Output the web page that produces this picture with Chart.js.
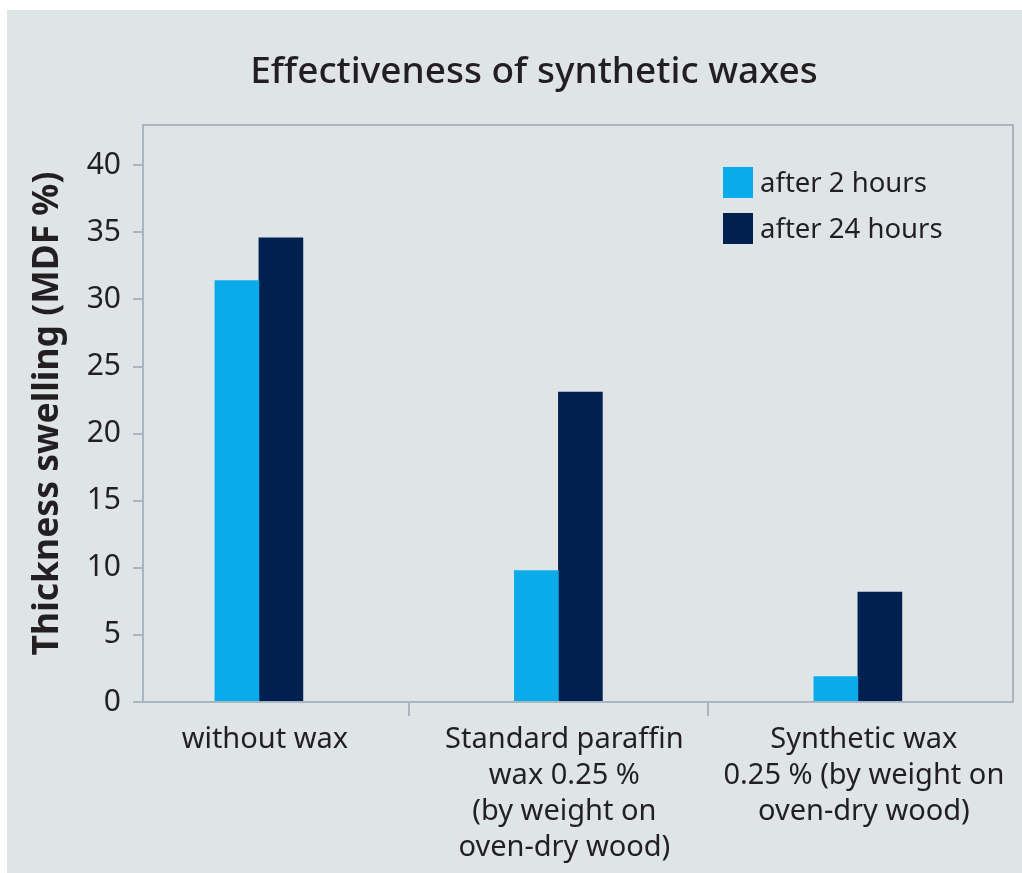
<!DOCTYPE html>
<html>
<head>
<meta charset="utf-8">
<script src="https://cdn.jsdelivr.net/npm/chart.js@4.4.1/dist/chart.umd.min.js"></script>
<style>
  html, body { margin: 0; padding: 0; background: #ffffff; }
  .wrap { position: absolute; left: 7px; top: 10px; width: 1015px; height: 863px; background: #dfe5e6; }
</style>
</head>
<body>
<div class="wrap"><canvas id="waxChart" width="1015" height="863"></canvas></div>
<script>
        // Chart data
        const chartTitle = 'Effectiveness of synthetic waxes';
        const categories = [
            ['without wax'],
            ['Standard paraffin', 'wax 0.25 %', '(by weight on', 'oven-dry wood)'],
            ['Synthetic wax', '0.25 % (by weight on', 'oven-dry wood)']
        ];
        const after2Hours = [31.4, 9.8, 1.9];
        const after24Hours = [34.6, 23.1, 8.2];
        const yTicks = [0, 5, 10, 15, 20, 25, 30, 35, 40];

        const textColor = '#231f20';
        const axisColor = '#a9b5c0';
        const fontFamily = '"Noto Sans", Roboto, sans-serif';

        // frame round the plot area + title (sits a bit right of the canvas centre)
        const frame = {
            id: 'frame',
            afterDraw(chart) {
                const { ctx, chartArea: a } = chart;
                ctx.save();
                ctx.strokeStyle = axisColor;
                ctx.lineWidth = 2;
                ctx.strokeRect(a.left, a.top, a.right - a.left, a.bottom - a.top);
                ctx.font = '500 37px ' + fontFamily;
                ctx.fillStyle = textColor;
                ctx.textAlign = 'center';
                ctx.textBaseline = 'middle';
                ctx.fillText(chartTitle, 527, 62);
                ctx.restore();
            }
        };

        // legend drawn inside the plot, top right
        const innerLegend = {
            id: 'innerLegend',
            afterDraw(chart) {
                const { ctx, chartArea: a } = chart;
                ctx.save();
                ctx.font = '27.5px ' + fontFamily;
                ctx.textBaseline = 'middle';
                ctx.textAlign = 'left';
                chart.data.datasets.forEach((ds, i) => {
                    const x = a.left + 580;
                    const y = a.top + 42 + i * 46;
                    ctx.fillStyle = ds.backgroundColor;
                    ctx.fillRect(x, y, 30, 31);
                    ctx.fillStyle = textColor;
                    ctx.fillText(ds.label, x + 37, y + 17);
                });
                ctx.restore();
            }
        };

        const ctxWax = document.getElementById('waxChart').getContext('2d');
        new Chart(ctxWax, {
            type: 'bar',
            data: {
                datasets: [{
                    label: 'after 2 hours',
                    data: after2Hours.map((v, i) => ({ x: i, y: v })),
                    backgroundColor: '#0aabea',
                    barThickness: 44
                }, {
                    label: 'after 24 hours',
                    data: after24Hours.map((v, i) => ({ x: i, y: v })),
                    backgroundColor: '#002050',
                    barThickness: 44
                }]
            },
            options: {
                responsive: false,
                animation: false,
                layout: { padding: { left: 0, right: 9, top: 115, bottom: 0 } },
                scales: {
                    x: {
                        type: 'linear',
                        min: -0.387,
                        max: 2.518,
                        offset: false,
                        afterBuildTicks: (s) => {
                            s.ticks = categories.flatMap((c, i) => i ? [i - 0.5, i] : [i]).map(v => ({ value: v }));
                        },
                        afterFit: (s) => { s.height = 171; },
                        grid: {
                            offset: false,
                            drawOnChartArea: false,
                            drawTicks: true,
                            tickLength: 14,
                            lineWidth: 2,
                            color: (c) => (c.tick && Number.isInteger(c.tick.value)) ? 'rgba(0,0,0,0)' : axisColor
                        },
                        border: { color: axisColor, width: 2 },
                        ticks: {
                            autoSkip: false,
                            maxRotation: 0,
                            minRotation: 0,
                            padding: 6,
                            labelOffset: 6,
                            color: textColor,
                            font: { family: fontFamily, size: 29, lineHeight: 1.24 },
                            callback: (v) => Number.isInteger(v) ? categories[v] : ''
                        }
                    },
                    y: {
                        min: 0,
                        max: 43,
                        afterBuildTicks: (s) => { s.ticks = yTicks.map(v => ({ value: v })); },
                        afterFit: (s) => { s.width = 136; },
                        grid: {
                            drawOnChartArea: false,
                            drawTicks: true,
                            tickLength: 10,
                            lineWidth: 2,
                            color: axisColor
                        },
                        border: { color: axisColor, width: 2 },
                        ticks: {
                            padding: 12,
                            color: textColor,
                            font: { family: fontFamily, size: 30 }
                        },
                        title: {
                            display: true,
                            text: 'Thickness swelling (MDF %)',
                            color: textColor,
                            padding: { top: 20, bottom: 0 },
                            font: { family: fontFamily, size: 35.5, weight: 'bold', lineHeight: 1.2 }
                        }
                    }
                },
                plugins: {
                    legend: { display: false },
                    tooltip: { enabled: false },
                    title: { display: false }
                }
            },
            plugins: [frame, innerLegend]
        });
</script>
</body>
</html>
